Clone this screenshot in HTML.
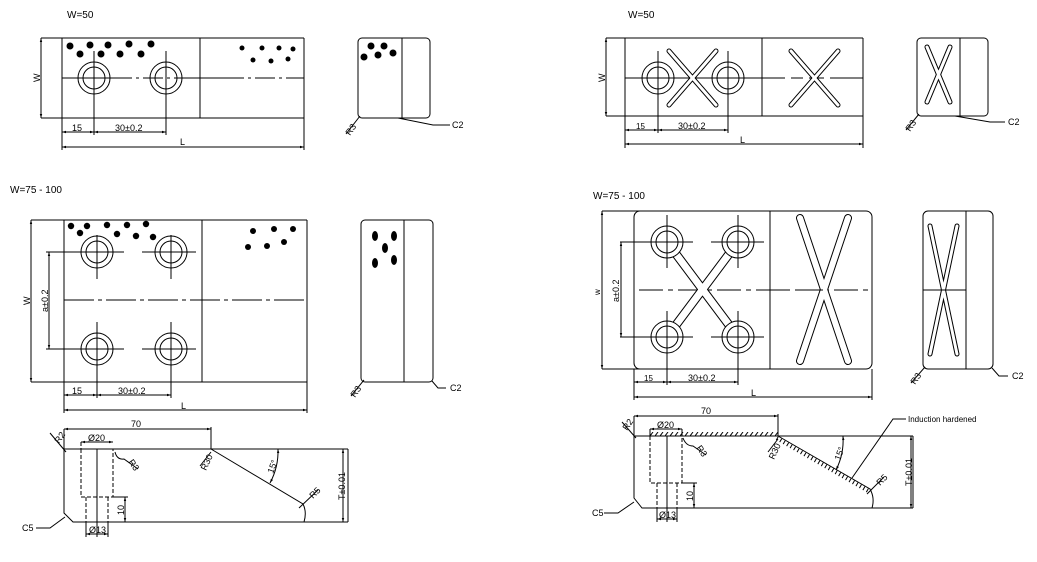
<!DOCTYPE html>
<html><head><meta charset="utf-8"><style>
html,body{margin:0;padding:0;background:#fff;}
svg{display:block;}
text{font-family:"Liberation Sans",sans-serif;font-size:9px;fill:#000;}
.t{font-size:10px;}
</style></head><body>
<svg width="1037" height="562" viewBox="0 0 1037 562" xmlns="http://www.w3.org/2000/svg">
<defs>
<marker id="a" viewBox="0 0 10 10" refX="10" refY="5" markerWidth="6" markerHeight="4" orient="auto-start-reverse"><path d="M0,2 L10,5 L0,8z" fill="#000"/></marker>
<pattern id="h" x="0" y="432" width="5" height="4" patternUnits="userSpaceOnUse"><line x1="0" y1="4" x2="3" y2="0" stroke="#000" stroke-width="1"/></pattern>
</defs>
<g stroke="#000" stroke-width="1" fill="none">
<!-- ===== TOP LEFT ===== -->
<line x1="41" y1="38" x2="304" y2="38"/>
<line x1="41" y1="118" x2="304" y2="118"/>
<line x1="62" y1="38" x2="62" y2="150"/>
<line x1="304" y1="38" x2="304" y2="150"/>
<line x1="200" y1="38" x2="200" y2="118"/>
<line x1="41" y1="38" x2="41" y2="118" marker-start="url(#a)" marker-end="url(#a)"/>
<line x1="62" y1="78" x2="304" y2="78" stroke-dasharray="70 4 3 4 20 4 3 4"/>
<circle cx="94" cy="78" r="16"/><circle cx="94" cy="78" r="11"/>
<circle cx="166" cy="78" r="16"/><circle cx="166" cy="78" r="11"/>
<line x1="94" y1="51" x2="94" y2="135"/><line x1="166" y1="51" x2="166" y2="135"/>
<line x1="62" y1="132" x2="94" y2="132" marker-start="url(#a)" marker-end="url(#a)"/>
<line x1="94" y1="132" x2="166" y2="132" marker-start="url(#a)" marker-end="url(#a)"/>
<line x1="62" y1="147" x2="304" y2="147" marker-start="url(#a)" marker-end="url(#a)"/>
<rect x="358" y="38" width="72" height="80" rx="4"/>
<line x1="402" y1="38" x2="402" y2="118"/>
<line x1="360" y1="116" x2="346" y2="134"/>
<polyline points="398,118 433,125 450,125"/>
<!-- ===== TOP RIGHT ===== -->
<line x1="606" y1="38" x2="863" y2="38"/>
<line x1="606" y1="116" x2="863" y2="116"/>
<line x1="625" y1="38" x2="625" y2="148"/>
<line x1="863" y1="38" x2="863" y2="148"/>
<line x1="762" y1="38" x2="762" y2="116"/>
<line x1="606" y1="38" x2="606" y2="116" marker-start="url(#a)" marker-end="url(#a)"/>
<line x1="625" y1="78" x2="863" y2="78" stroke-dasharray="160 6 12 6 15 6"/>
<circle cx="658" cy="78" r="16"/><circle cx="658" cy="78" r="11"/>
<circle cx="728" cy="78" r="16"/><circle cx="728" cy="78" r="11"/>
<line x1="658" y1="51" x2="658" y2="133"/><line x1="728" y1="51" x2="728" y2="133"/>
<line x1="625" y1="130" x2="658" y2="130" marker-start="url(#a)" marker-end="url(#a)"/>
<line x1="658" y1="130" x2="728" y2="130" marker-start="url(#a)" marker-end="url(#a)"/>
<line x1="625" y1="144" x2="863" y2="144" marker-start="url(#a)" marker-end="url(#a)"/>
<rect x="917" y="38" width="71" height="78" rx="4"/>
<line x1="960" y1="38" x2="960" y2="116"/>
<line x1="919" y1="114" x2="906" y2="130"/>
<polyline points="955,116 990,122 1005,122"/>
<!-- ===== MID LEFT ===== -->
<line x1="31" y1="220" x2="307" y2="220"/>
<line x1="31" y1="382" x2="307" y2="382"/>
<line x1="64" y1="220" x2="64" y2="413"/>
<line x1="307" y1="220" x2="307" y2="413"/>
<line x1="202" y1="220" x2="202" y2="382"/>
<line x1="31" y1="220" x2="31" y2="382" marker-start="url(#a)" marker-end="url(#a)"/>
<line x1="64" y1="300" x2="307" y2="300" stroke-dasharray="30 4 4 4"/>
<circle cx="97" cy="252" r="16"/><circle cx="97" cy="252" r="11"/>
<circle cx="171" cy="252" r="16"/><circle cx="171" cy="252" r="11"/>
<circle cx="97" cy="349" r="16"/><circle cx="97" cy="349" r="11"/>
<circle cx="171" cy="349" r="16"/><circle cx="171" cy="349" r="11"/>
<line x1="46" y1="252" x2="124" y2="252"/><line x1="142" y1="252" x2="196" y2="252"/>
<line x1="46" y1="349" x2="124" y2="349"/><line x1="142" y1="349" x2="196" y2="349"/>
<line x1="97" y1="235" x2="97" y2="279"/><line x1="171" y1="235" x2="171" y2="279"/>
<line x1="97" y1="322" x2="97" y2="398"/><line x1="171" y1="322" x2="171" y2="398"/>
<line x1="49" y1="252" x2="49" y2="349" marker-start="url(#a)" marker-end="url(#a)"/>
<line x1="64" y1="395" x2="97" y2="395" marker-start="url(#a)" marker-end="url(#a)"/>
<line x1="97" y1="395" x2="171" y2="395" marker-start="url(#a)" marker-end="url(#a)"/>
<line x1="64" y1="410" x2="307" y2="410" marker-start="url(#a)" marker-end="url(#a)"/>
<rect x="361" y="220" width="72" height="162" rx="4"/>
<line x1="404" y1="220" x2="404" y2="382"/>
<line x1="364" y1="380" x2="351" y2="396"/>
<polyline points="432,381 438,388 446,388"/>
<!-- ===== MID RIGHT ===== -->
<line x1="602" y1="211" x2="640" y2="211"/>
<line x1="602" y1="369" x2="640" y2="369"/>
<line x1="602" y1="211" x2="602" y2="369" marker-start="url(#a)" marker-end="url(#a)"/>
<rect x="634" y="211" width="238" height="158" rx="6"/>
<line x1="634" y1="369" x2="634" y2="400"/><line x1="872" y1="369" x2="872" y2="400"/>
<line x1="770" y1="211" x2="770" y2="369"/>
<line x1="639" y1="290" x2="868" y2="290" stroke-dasharray="24 5 5 5"/>
<g stroke-linecap="round">
<line x1="667" y1="242" x2="738" y2="337" stroke-width="9"/>
<line x1="738" y1="242" x2="667" y2="337" stroke-width="9"/>
<line x1="667" y1="242" x2="738" y2="337" stroke-width="7" stroke="#fff"/>
<line x1="738" y1="242" x2="667" y2="337" stroke-width="7" stroke="#fff"/>
<line x1="800" y1="218" x2="848" y2="361" stroke-width="8"/>
<line x1="848" y1="218" x2="800" y2="361" stroke-width="8"/>
<line x1="800" y1="218" x2="848" y2="361" stroke-width="6" stroke="#fff"/>
<line x1="848" y1="218" x2="800" y2="361" stroke-width="6" stroke="#fff"/>
<line x1="930" y1="226" x2="957" y2="354" stroke-width="5"/>
<line x1="957" y1="226" x2="930" y2="354" stroke-width="5"/>
<line x1="930" y1="226" x2="957" y2="354" stroke-width="3" stroke="#fff"/>
<line x1="957" y1="226" x2="930" y2="354" stroke-width="3" stroke="#fff"/>
<line x1="669" y1="51" x2="716" y2="105" stroke-width="5"/>
<line x1="716" y1="51" x2="669" y2="105" stroke-width="5"/>
<line x1="791" y1="51" x2="838" y2="105" stroke-width="5"/>
<line x1="838" y1="51" x2="791" y2="105" stroke-width="5"/>
<line x1="927" y1="47" x2="950" y2="102" stroke-width="5"/>
<line x1="950" y1="47" x2="927" y2="102" stroke-width="5"/>
<line x1="669" y1="51" x2="716" y2="105" stroke-width="3" stroke="#fff"/>
<line x1="716" y1="51" x2="669" y2="105" stroke-width="3" stroke="#fff"/>
<line x1="791" y1="51" x2="838" y2="105" stroke-width="3" stroke="#fff"/>
<line x1="838" y1="51" x2="791" y2="105" stroke-width="3" stroke="#fff"/>
<line x1="927" y1="47" x2="950" y2="102" stroke-width="3" stroke="#fff"/>
<line x1="950" y1="47" x2="927" y2="102" stroke-width="3" stroke="#fff"/>
</g>
<line x1="823" y1="290" x2="770" y2="290" stroke-dasharray="18 5 5 5"/>
<circle cx="667" cy="242" r="16" fill="#fff"/><circle cx="667" cy="242" r="11"/>
<circle cx="738" cy="242" r="16" fill="#fff"/><circle cx="738" cy="242" r="11"/>
<circle cx="667" cy="337" r="16" fill="#fff"/><circle cx="667" cy="337" r="11"/>
<circle cx="738" cy="337" r="16" fill="#fff"/><circle cx="738" cy="337" r="11"/>
<line x1="620" y1="242" x2="693" y2="242"/><line x1="711" y1="242" x2="764" y2="242"/>
<line x1="620" y1="337" x2="693" y2="337"/><line x1="711" y1="337" x2="764" y2="337"/>
<line x1="667" y1="215" x2="667" y2="268"/><line x1="738" y1="215" x2="738" y2="268"/>
<line x1="667" y1="311" x2="667" y2="385"/><line x1="738" y1="311" x2="738" y2="385"/>
<line x1="621" y1="242" x2="621" y2="337" marker-start="url(#a)" marker-end="url(#a)"/>
<line x1="634" y1="382" x2="667" y2="382" marker-start="url(#a)" marker-end="url(#a)"/>
<line x1="667" y1="382" x2="738" y2="382" marker-start="url(#a)" marker-end="url(#a)"/>
<line x1="634" y1="397" x2="872" y2="397" marker-start="url(#a)" marker-end="url(#a)"/>
<rect x="923" y="211" width="70" height="158" rx="5"/>
<line x1="966" y1="211" x2="966" y2="369"/>
<line x1="923" y1="290" x2="966" y2="290"/>
<line x1="925" y1="367" x2="911" y2="383"/>
<polyline points="992,368 999,376 1008,376"/>
<!-- ===== BOTTOM LEFT ===== -->
<polyline points="211,449 64,449 64,513 73,522 348,522"/>
<line x1="211" y1="449" x2="348" y2="449"/>
<line x1="348" y1="449" x2="348" y2="522"/>
<path d="M211,449 L303,504 Q307,512 304,522"/>
<line x1="64" y1="429" x2="64" y2="449"/><line x1="211" y1="427" x2="211" y2="449"/>
<line x1="64" y1="429" x2="211" y2="429" marker-start="url(#a)" marker-end="url(#a)"/>
<g stroke-dasharray="4 2">
<polyline points="81,449 81,497 113,497 113,449"/>
<line x1="86" y1="497" x2="86" y2="522"/><line x1="108" y1="497" x2="108" y2="522"/>
<line x1="81" y1="442" x2="81" y2="449"/>
</g>
<line x1="97" y1="449" x2="97" y2="537"/>
<line x1="81" y1="442" x2="113" y2="442" marker-start="url(#a)" marker-end="url(#a)"/>
<line x1="86" y1="522" x2="86" y2="537"/><line x1="108" y1="522" x2="108" y2="537"/>
<line x1="86" y1="534" x2="108" y2="534" marker-start="url(#a)" marker-end="url(#a)"/>
<line x1="113" y1="497" x2="128" y2="497"/>
<line x1="125" y1="497" x2="125" y2="522" marker-start="url(#a)" marker-end="url(#a)"/>
<line x1="50" y1="433" x2="66" y2="452"/>
<path d="M115,452 Q117,460 124,459 L138,469"/>
<path d="M278,449 A67,67 0 0 1 270,483" marker-start="url(#a)" marker-end="url(#a)"/>
<line x1="299" y1="508" x2="318" y2="490"/>
<line x1="211" y1="452" x2="200" y2="466"/>
<line x1="343" y1="449" x2="343" y2="522" marker-start="url(#a)" marker-end="url(#a)"/>
<polyline points="36,528 50,528 65,517"/>
<!-- ===== BOTTOM RIGHT ===== -->
<polyline points="778,436 634,436 634,498 642,508 913,508"/>
<line x1="778" y1="436" x2="913" y2="436"/>
<line x1="913" y1="436" x2="913" y2="508"/>
<path d="M778,436 L870,489 Q875,498 872,508"/>
<rect x="650" y="432" width="128" height="4" fill="url(#h)" stroke="none"/>
<line x1="776.8" y1="438.2" x2="868.8" y2="491.2" stroke-width="4" stroke-dasharray="1 3"/>
<line x1="634" y1="416" x2="634" y2="436"/><line x1="778" y1="414" x2="778" y2="436"/>
<line x1="634" y1="416" x2="778" y2="416" marker-start="url(#a)" marker-end="url(#a)"/>
<g stroke-dasharray="4 2">
<polyline points="650,436 650,483 682,483 682,436"/>
<line x1="657" y1="483" x2="657" y2="508"/><line x1="677" y1="483" x2="677" y2="508"/>
</g>
<line x1="667" y1="436" x2="667" y2="522"/>
<line x1="650" y1="429" x2="650" y2="436"/><line x1="682" y1="429" x2="682" y2="436"/>
<line x1="650" y1="429" x2="682" y2="429" marker-start="url(#a)" marker-end="url(#a)"/>
<line x1="657" y1="508" x2="657" y2="522"/><line x1="677" y1="508" x2="677" y2="522"/>
<line x1="657" y1="519" x2="677" y2="519" marker-start="url(#a)" marker-end="url(#a)"/>
<line x1="682" y1="483" x2="697" y2="483"/>
<line x1="694" y1="483" x2="694" y2="508" marker-start="url(#a)" marker-end="url(#a)"/>
<line x1="622" y1="422" x2="636" y2="438"/>
<path d="M683,438 Q686,446 693,446 L706,455"/>
<path d="M843,436 A66,66 0 0 1 836,470" marker-start="url(#a)" marker-end="url(#a)"/>
<line x1="867" y1="494" x2="884" y2="477"/>
<line x1="778" y1="439" x2="768" y2="452"/>
<line x1="911" y1="436" x2="911" y2="508" marker-start="url(#a)" marker-end="url(#a)"/>
<polyline points="906,419 893,419 852,478"/>
<polyline points="604,513 618,513 634,502"/>
</g>
<g fill="#000">
<circle cx="70" cy="46" r="3.5"/><circle cx="90" cy="45" r="3.5"/><circle cx="108" cy="45" r="3.5"/><circle cx="129" cy="44" r="3.5"/><circle cx="151" cy="44" r="3.5"/>
<circle cx="80" cy="54" r="3.5"/><circle cx="101" cy="54" r="3.5"/><circle cx="120" cy="54" r="3.5"/><circle cx="141" cy="54" r="3.5"/>
<circle cx="242" cy="48" r="2.5"/><circle cx="262" cy="48" r="2.5"/><circle cx="279" cy="48" r="2.5"/><circle cx="293" cy="49" r="2.5"/>
<circle cx="253" cy="60" r="2.5"/><circle cx="271" cy="61" r="2.5"/><circle cx="288" cy="59" r="2.5"/>
<circle cx="371" cy="46" r="3.5"/><circle cx="384" cy="46" r="3.5"/><circle cx="364" cy="57" r="3.5"/><circle cx="378" cy="55" r="3.5"/><circle cx="393" cy="53" r="3.5"/>
<circle cx="71" cy="226" r="3.2"/><circle cx="87" cy="226" r="3.2"/><circle cx="107" cy="225" r="3.2"/><circle cx="127" cy="225" r="3.2"/><circle cx="146" cy="224" r="3.2"/>
<circle cx="80" cy="233" r="3.2"/><circle cx="117" cy="234" r="3.2"/><circle cx="136" cy="236" r="3.2"/><circle cx="153" cy="237" r="3.2"/>
<circle cx="253" cy="231" r="3"/><circle cx="274" cy="229" r="3"/><circle cx="293" cy="229" r="3"/><circle cx="248" cy="247" r="3"/><circle cx="267" cy="246" r="3"/><circle cx="284" cy="242" r="3"/>
<ellipse cx="375" cy="236" rx="3" ry="5"/><ellipse cx="394" cy="236" rx="3" ry="5"/><ellipse cx="385" cy="248" rx="3" ry="5"/><ellipse cx="375" cy="263" rx="3" ry="5"/><ellipse cx="394" cy="260" rx="3" ry="5"/>
</g>
<text class="t" x="67" y="18">W=50</text>
<text class="t" x="628" y="18">W=50</text>
<text class="t" x="10" y="193">W=75 - 100</text>
<text class="t" x="593" y="199">W=75 - 100</text>
<text transform="translate(40,82) rotate(-90)">W</text>
<text transform="translate(605,82) rotate(-90)">W</text>
<text transform="translate(30,305) rotate(-90)">W</text>
<text transform="translate(600,295) rotate(-90)" style="font-size:8px">w</text>
<text transform="translate(48,312) rotate(-90)">a±0.2</text>
<text transform="translate(619,302) rotate(-90)">a±0.2</text>
<text x="72" y="131">15</text><text x="115" y="131">30±0.2</text><text x="180" y="145">L</text>
<text x="636" y="129" style="font-size:8px">15</text><text x="678" y="129">30±0.2</text><text x="740" y="143">L</text>
<text x="72" y="394">15</text><text x="118" y="394">30±0.2</text><text x="181" y="409">L</text>
<text x="644" y="381" style="font-size:8px">15</text><text x="688" y="381">30±0.2</text><text x="751" y="396">L</text>
<text transform="translate(350,136) rotate(-55)">R3</text><text x="452" y="128">C2</text>
<text transform="translate(910,132) rotate(-55)">R3</text><text x="1008" y="125">C2</text>
<text transform="translate(355,398) rotate(-55)">R3</text><text x="450" y="391">C2</text>
<text transform="translate(915,385) rotate(-55)">R3</text><text x="1012" y="379">C2</text>
<text x="131" y="427">70</text><text x="701" y="414">70</text>
<text x="88" y="441">Ø20</text><text x="657" y="428">Ø20</text>
<text x="89" y="533">Ø13</text><text x="659" y="518">Ø13</text>
<text transform="translate(124,515) rotate(-90)">10</text>
<text transform="translate(693,501) rotate(-90)">10</text>
<text transform="translate(59,444) rotate(-55)">R2</text>
<text transform="translate(627,431) rotate(-55)">R2</text>
<text transform="translate(128,462) rotate(55)">R3</text>
<text transform="translate(696,448) rotate(55)">R3</text>
<text transform="translate(206,471) rotate(-65)">R30</text>
<text transform="translate(774,460) rotate(-65)">R30</text>
<text transform="translate(273,474) rotate(-70)">15°</text>
<text transform="translate(840,461) rotate(-70)">15°</text>
<text transform="translate(313,499) rotate(-45)">R5</text>
<text transform="translate(880,486) rotate(-45)">R5</text>
<text transform="translate(345,500) rotate(-90)">T±0.01</text>
<text transform="translate(912,486) rotate(-90)">T±0.01</text>
<text x="22" y="531">C5</text><text x="592" y="516">C5</text>
<text x="908" y="422" style="font-size:8px">Induction hardened</text>
</svg>
</body></html>
